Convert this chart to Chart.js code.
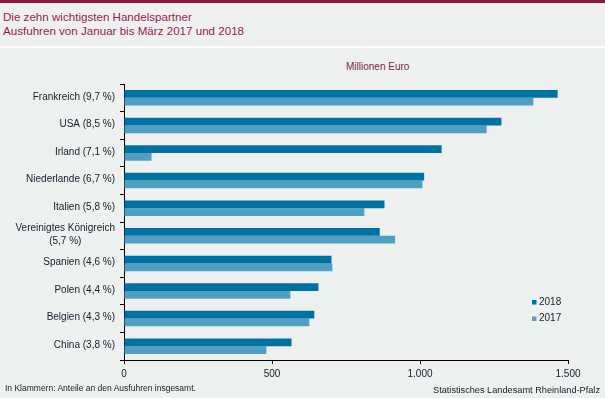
<!DOCTYPE html>
<html>
<head>
<meta charset="utf-8">
<script src="https://cdn.jsdelivr.net/npm/chart.js@4"></script>
<style>
  html, body { margin: 0; padding: 0; }
  body { width: 605px; height: 398px; background: #eef0ef; position: relative; overflow: hidden;
         font-family: "Liberation Sans", Arial, sans-serif; }
  #topbar { position: absolute; left: 0; top: 0; width: 605px; height: 3px; background: #8b1a3a; }
  #sep { position: absolute; left: 0; top: 46px; width: 605px; height: 2px; background: #ffffff; }
  #title { position: absolute; left: 3px; top: 10px; font-size: 11.6px; line-height: 14px; color: #9b1b4b; }
  #unit { position: absolute; left: 346px; top: 61px; font-size: 10px; color: #7a2848; }
  #note { position: absolute; left: 5px; top: 383px; font-size: 8.5px; color: #1a1a2a; }
  #source { position: absolute; right: 5px; top: 385px; font-size: 9.2px; color: #1a1a2a; }
  #wrap { position: absolute; left: 0; top: 0; width: 605px; height: 398px; }
</style>
</head>
<body>
<div id="topbar"></div>
<div id="title">Die zehn wichtigsten Handelspartner<br>Ausfuhren von Januar bis März 2017 und 2018</div>
<div id="sep"></div>
<div id="unit">Millionen Euro</div>
<div id="wrap"><canvas id="mycanvas" width="605" height="398"></canvas></div>
<div id="note">In Klammern: Anteile an den Ausfuhren insgesamt.</div>
<div id="source">Statistisches Landesamt Rheinland-Pfalz</div>
<script>
var partners = [
    ["Frankreich (9,7 %)"],
    ["USA (8,5 %)"],
    ["Irland (7,1 %)"],
    ["Niederlande (6,7 %)"],
    ["Italien (5,8 %)"],
    ["Vereinigtes Königreich", "(5,7 %)"],
    ["Spanien (4,6 %)"],
    ["Polen (4,4 %)"],
    ["Belgien (4,3 %)"],
    ["China (3,8 %)"]
];
var exports2018 = [1465, 1275, 1073, 1014, 880, 864, 701, 657, 643, 566];
var exports2017 = [1383, 1225, 93, 1008, 812, 916, 704, 562, 626, 481];
var xTicks = [0, 500, 1000, 1500];

var FONT = "'Liberation Sans', Arial, sans-serif";

// y labels drawn by hand so the 2nd line of a two-line label sits centred under the first
var yLabels = {
    id: 'yLabels',
    afterDraw: function(chart) {
        var ctx = chart.ctx;
        var y = chart.scales.y;
        ctx.save();
        ctx.font = "10px " + FONT;
        ctx.fillStyle = "#1a1a2a";
        ctx.textBaseline = "middle";
        var right = y.right - 9;
        chart.data.labels.forEach(function(lab, i) {
            var py = y.getPixelForValue(i) - 1;
            if (lab.length == 1) {
                ctx.textAlign = "right";
                ctx.fillText(lab[0], right, py);
            } else {
                var w = ctx.measureText(lab[0]).width;
                var cx = right - w / 2;
                ctx.textAlign = "center";
                var lh = 13;
                var top = py - (lab.length - 1) * lh / 2;
                lab.forEach(function(line, j) {
                    ctx.fillText(line, cx, top + j * lh);
                });
            }
        });
        ctx.restore();
    }
};

// legend in the lower right corner of the plot
var boxLegend = {
    id: 'boxLegend',
    afterDraw: function(chart) {
        var ctx = chart.ctx;
        ctx.save();
        ctx.font = "10px " + FONT;
        ctx.textBaseline = "middle";
        ctx.textAlign = "left";
        chart.data.datasets.forEach(function(ds, i) {
            var yy = 302 + i * 16.5;
            ctx.fillStyle = ds.backgroundColor;
            ctx.fillRect(532, yy - 2, 4.5, 4.5);
            ctx.fillStyle = "#1a1a2a";
            ctx.fillText(ds.label, 539, yy);
        });
        ctx.restore();
    }
};

var ctx = document.getElementById('mycanvas');
var myChart = new Chart(ctx, {
    type: 'bar',
    data: {
        labels: partners,
        datasets: [
            {
                label: '2018',
                data: exports2018,
                backgroundColor: '#0071a3',
                borderWidth: 0
            },
            {
                label: '2017',
                data: exports2017,
                backgroundColor: '#4f9fc2',
                borderWidth: 0
            }
        ]
    },
    options: {
        indexAxis: 'y',
        responsive: false,
        animation: false,
        layout: { padding: { left: 0, top: 84, right: 37, bottom: 0 } },
        datasets: { bar: { categoryPercentage: 0.56, barPercentage: 1.0 } },
        plugins: {
            legend: { display: false },
            tooltip: { enabled: false }
        },
        scales: {
            x: {
                min: 0,
                max: 1500,
                afterBuildTicks: function(scale) {
                    scale.ticks = xTicks.map(function(v) { return { value: v }; });
                },
                afterFit: function(scale) { scale.height = 38; },
                border: { color: '#000000', width: 1 },
                grid: { drawOnChartArea: false, color: '#000000', tickLength: 4 },
                ticks: {
                    color: '#1a1a2a',
                    font: { family: FONT, size: 10 },
                    padding: 4,
                    maxRotation: 0,
                    callback: function(v) {
                        return String(v).replace(/\B(?=(\d{3})+(?!\d))/g, '.');
                    }
                }
            },
            y: {
                afterFit: function(scale) { scale.width = 124; },
                border: { color: '#000000', width: 1 },
                grid: { drawOnChartArea: false, color: '#000000', tickLength: 4, offset: true },
                ticks: { display: false }
            }
        }
    },
    plugins: [yLabels, boxLegend]
});
</script>
</body>
</html>
